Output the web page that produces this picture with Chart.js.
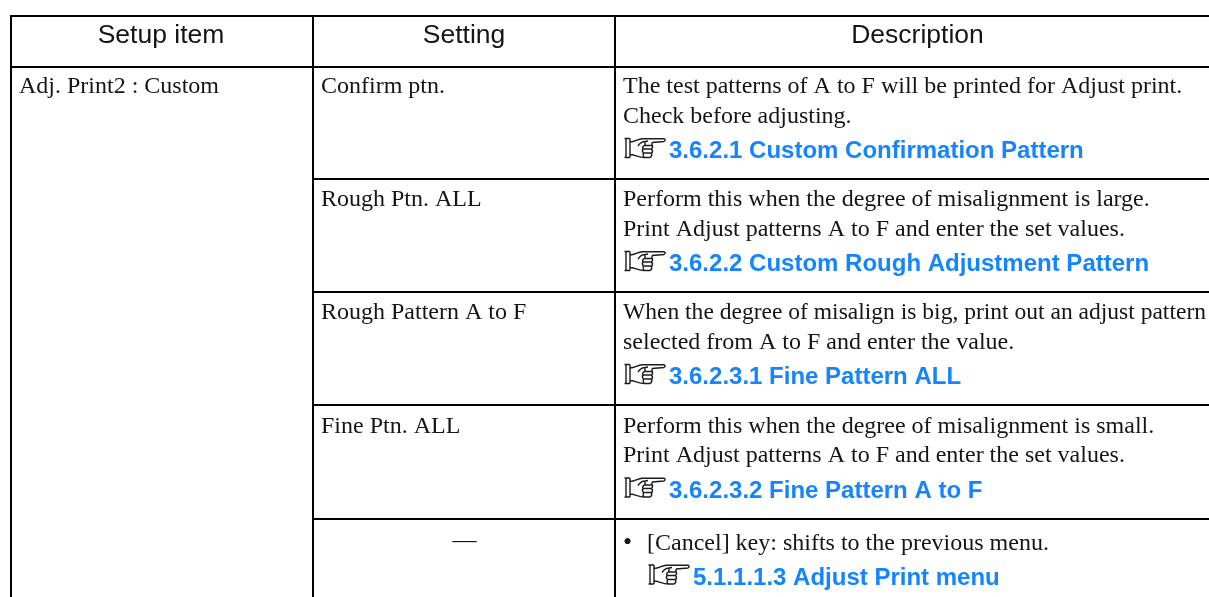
<!DOCTYPE html>
<html>
<head>
<meta charset="utf-8">
<title>Adj. Print2 : Custom</title>
<script src="https://cdn.jsdelivr.net/npm/chart.js@4"></script>
<style>
  html, body { margin: 0; padding: 0; background: #fff; overflow: hidden; }
  canvas { display: block; }
</style>
</head>
<body>
<canvas id="chart-table" width="1209" height="597"></canvas>
<script>
// Table contents
const headers = ['Setup item', 'Setting', 'Description'];
const setupItem = 'Adj. Print2 : Custom';
const settings = ['Confirm ptn.', 'Rough Ptn. ALL', 'Rough Pattern A to F', 'Fine Ptn. ALL', '—'];
const descriptions = [
  ['The test patterns of A to F will be printed for Adjust print.', 'Check before adjusting.'],
  ['Perform this when the degree of misalignment is large.', 'Print Adjust patterns A to F and enter the set values.'],
  ['When the degree of misalign is big, print out an adjust pattern', 'selected from A to F and enter the value.'],
  ['Perform this when the degree of misalignment is small.', 'Print Adjust patterns A to F and enter the set values.'],
  ['[Cancel] key: shifts to the previous menu.']
];
const links = [
  '3.6.2.1 Custom Confirmation Pattern',
  '3.6.2.2 Custom Rough Adjustment Pattern',
  '3.6.2.3.1 Fine Pattern ALL',
  '3.6.2.3.2 Fine Pattern A to F',
  '5.1.1.1.3 Adjust Print menu'
];

// Rule positions
const columnRules = [1, 303, 605];
const rowRules = [1, 52, 164, 277, 390, 504];
// small per row nudge of the text, the rows are not perfectly even in the scan
const rowShift = [-1, 0, 0, 0.5, 0];

const X_MAX = 1199;
const SERIF = '24px "Liberation Serif", serif';
const SANS = '"Liberation Sans", sans-serif';
const INK = '#151515';
const BLUE = '#1484ff';
// the longest line just fits before the page edge
const DESC_MAX_WIDTH = 583;

// the pointing hand icon, 42x20 box
const HAND = new Path2D(
  'M0.5 0.5 H6 M0.5 19.5 H6 M2 0.5 V19.5 M6 0.5 V19.5 ' +
  'M6 4 C11 4 14 1 18 0.7 H40 Q42.3 2 40 3.5 L28 4.5 ' +
  'M6 16.5 C10 16.5 15 19.5 20 19.5 H26 Q28.5 18 27.5 15.5 Q29.5 13 27.5 11 Q29.5 9 28 7 L28 4.5 ' +
  'M14 8 Q17 3.5 21 3.5 L24 3 M20 7.5 H27.5 M19 11 H27.5 M19.5 15 H27.5 M20 7.5 Q18 9.5 19 11 Q17.5 13 19.5 15 Q18.5 17 20 19.5 ' +
  'M21 3.5 L21 7.5'
);

function text(ctx, str, x, y, font, color, align, maxWidth) {
  ctx.font = font;
  ctx.fillStyle = color;
  ctx.textAlign = align || 'left';
  ctx.textBaseline = 'alphabetic';
  if (maxWidth) ctx.fillText(str, x, y, maxWidth);
  else ctx.fillText(str, x, y);
}

function linkLine(ctx, label, x, y) {
  ctx.save();
  ctx.translate(x + 1, y - 20);
  ctx.strokeStyle = '#1c1c1c';
  ctx.lineWidth = 1.4;
  ctx.stroke(HAND);
  ctx.restore();
  text(ctx, label, x + 46, y, 'bold 24px ' + SANS, BLUE);
}

const tableText = {
  id: 'tableText',
  afterDraw(chart) {
    const { ctx, scales: { x, y } } = chart;
    const colX = c => x.getPixelForValue(columnRules[c]);
    const rowY = r => y.getPixelForValue(rowRules[r]);

    ctx.save();
    const mids = [(colX(0) + colX(1)) / 2 - 1, (colX(1) + colX(2)) / 2, (colX(2) + x.right) / 2 + 5.5];
    headers.forEach((h, c) => text(ctx, h, mids[c], 43, '26.5px ' + SANS, INK, 'center'));
    text(ctx, setupItem, colX(0) + 8, rowY(1) + 26, SERIF, INK);

    settings.forEach((s, i) => {
      const top = rowY(i + 1) + rowShift[i];
      if (s === '—') {
        text(ctx, s, mids[1] + 0.5, top + 28, SERIF, INK, 'center');
      } else {
        text(ctx, s, colX(1) + 8, top + 27, SERIF, INK);
      }
      const lines = descriptions[i];
      if (lines.length === 1) {
        text(ctx, '•', colX(2) + 8, top + 31, '26px "Liberation Serif", serif', INK);
        text(ctx, lines[0], colX(2) + 32, top + 30.5, SERIF, INK);
        linkLine(ctx, links[i], colX(2) + 32, top + 65.5);
      } else {
        text(ctx, lines[0], colX(2) + 8, top + 27, SERIF, INK, 'left', DESC_MAX_WIDTH);
        text(ctx, lines[1], colX(2) + 8, top + 56.5, SERIF, INK);
        linkLine(ctx, links[i], colX(2) + 8, top + 92);
      }
    });
    ctx.restore();
  }
};

// Horizontal rules: the first two cross the whole table, the rest stop at the merged first column
const ruleSets = rowRules.map((value, i) => ({
  data: [{ x: i < 2 ? columnRules[0] : columnRules[1], y: value }, { x: X_MAX, y: value }],
  showLine: true,
  borderColor: '#000',
  borderWidth: 2,
  pointRadius: 0,
  clip: false
}));

new Chart(document.getElementById('chart-table'), {
  type: 'scatter',
  data: { datasets: ruleSets },
  plugins: [tableText],
  options: {
    responsive: false,
    animation: false,
    events: [],
    layout: { padding: { left: 10, top: 15, right: 0, bottom: 0 } },
    plugins: { legend: { display: false }, tooltip: { enabled: false } },
    scales: {
      x: {
        type: 'linear', min: 0, max: X_MAX, position: 'top',
        afterBuildTicks: axis => { axis.ticks = columnRules.map(value => ({ value })); },
        ticks: { display: false },
        border: { display: false },
        grid: { color: '#000', lineWidth: 2, drawTicks: false }
      },
      y: {
        type: 'linear', min: 0, max: 582, reverse: true,
        display: false
      }
    }
  }
});
</script>
</body>
</html>
